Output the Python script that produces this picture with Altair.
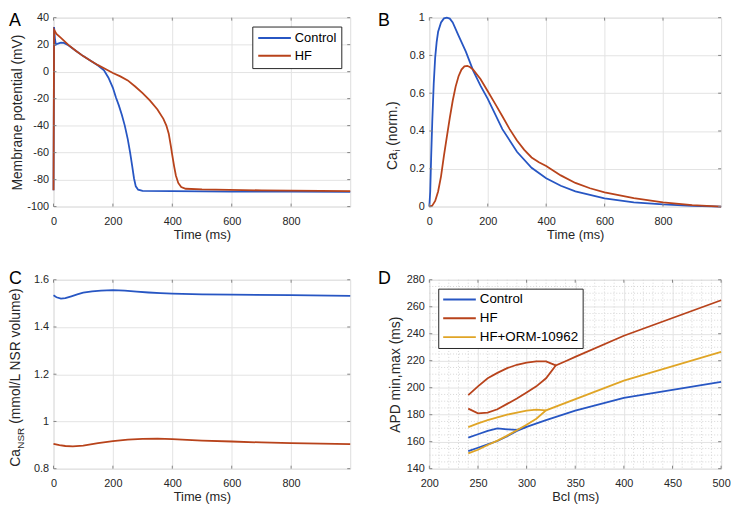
import altair as alt
import pandas as pd

# ---------------- data ----------------
SERIES_AB = ["Control", "HF"]
SERIES_D = ["Control", "HF", "HF+ORM-10962"]

# Panel A: membrane potential (mV) vs time (ms)
a_ctrl_t = [0, 2, 5, 8, 15, 25, 35, 50, 75, 100, 125, 150, 170, 185, 200, 210, 220, 230, 240, 250,
            258, 265, 271, 277, 285, 300, 400, 600, 800, 999]
a_ctrl_v = [-88, 33, 24, 20, 20.8, 21.5, 21.3, 19.5, 15.5, 11.5, 8, 4.5, 1, -4.5, -12, -19, -25, -32, -40, -50,
            -60, -70, -79, -85, -87.5, -88.3, -88.6, -88.9, -89, -89.1]
a_hf_t = [0, 2, 10, 25, 50, 75, 100, 125, 150, 175, 200, 225, 250, 275, 300, 325, 350, 370, 380, 388,
          395, 400, 406, 412, 420, 430, 445, 500, 700, 999]
a_hf_v = [-88, 31, 28, 25, 19.8, 15.5, 11.5, 8, 4.8, 2, -1, -3.5, -6.5, -11, -16, -21.5, -28, -35, -40, -46,
          -55, -62, -70, -77, -82.5, -85.5, -86.8, -87.3, -88, -88.6]

# Panel B: Ca_i normalised
b_ctrl_t = [0, 3, 6, 10, 15, 20, 25, 30, 40, 50, 60, 70, 80, 100, 125, 150, 175, 200, 250, 300, 350, 400,
            450, 500, 600, 700, 800, 900, 999]
b_ctrl_v = [0, 0.08, 0.25, 0.45, 0.65, 0.79, 0.87, 0.925, 0.975, 0.996, 1.0, 0.995, 0.975, 0.905, 0.82, 0.72,
            0.64, 0.57, 0.41, 0.29, 0.205, 0.15, 0.11, 0.08, 0.043, 0.022, 0.011, 0.004, 0]
b_hf_t = [0, 10, 20, 30, 40, 50, 60, 70, 80, 90, 100, 110, 120, 130, 140, 150, 175, 200, 225, 250, 275, 300,
          325, 350, 375, 400, 450, 500, 550, 600, 700, 800, 900, 999]
b_hf_v = [0, 0.005, 0.03, 0.08, 0.16, 0.27, 0.37, 0.47, 0.56, 0.635, 0.69, 0.725, 0.742, 0.745, 0.737, 0.725,
          0.675, 0.61, 0.545, 0.478, 0.41, 0.35, 0.3, 0.26, 0.235, 0.215, 0.165, 0.125, 0.097, 0.075, 0.045,
          0.022, 0.008, 0]

# Panel C: Ca_NSR (mmol/L NSR volume)
c_ctrl_t = [0, 10, 25, 40, 60, 80, 100, 130, 160, 200, 240, 280, 320, 360, 400, 500, 600, 800, 999]
c_ctrl_v = [1.534, 1.526, 1.520, 1.522, 1.530, 1.538, 1.545, 1.551, 1.554, 1.556, 1.554, 1.550, 1.546, 1.543,
            1.541, 1.538, 1.537, 1.535, 1.532]
c_hf_t = [0, 20, 40, 65, 100, 150, 200, 250, 300, 350, 400, 450, 500, 600, 700, 800, 900, 999]
c_hf_v = [0.905, 0.900, 0.896, 0.894, 0.898, 0.908, 0.917, 0.923, 0.926, 0.927, 0.925, 0.922, 0.919, 0.915,
          0.911, 0.908, 0.906, 0.904]

# Panel D: APD min/max (ms) vs Bcl (ms) -- upper (max) branch and lower (min) + merged branch
d_ctrl_up_bcl = [240, 250, 260, 270, 280, 290, 300]
d_ctrl_up_apd = [163, 165.5, 168, 169.8, 169.2, 168.8, 171]
d_ctrl_lo_bcl = [240, 250, 260, 270, 280, 290, 300, 320, 350, 400, 500]
d_ctrl_lo_apd = [153, 155.5, 158, 160.5, 164, 168, 171, 176, 183, 192.5, 204.3]
d_hf_up_bcl = [240, 250, 260, 270, 280, 290, 300, 310, 320, 330]
d_hf_up_apd = [194.5, 201, 207, 211, 214.5, 217, 218.5, 219.5, 219.5, 216.5]
d_hf_lo_bcl = [240, 250, 260, 270, 280, 290, 300, 310, 320, 330, 340, 350, 400, 500]
d_hf_lo_apd = [184.5, 181, 181.5, 184, 188, 192, 196.5, 201, 207, 216.5, 219.6, 222.8, 238.5, 264.8]
d_orm_up_bcl = [240, 250, 260, 270, 280, 290, 300, 310, 320]
d_orm_up_apd = [170.8, 173.5, 176, 178, 180, 181.5, 183, 183.8, 183.2]
d_orm_lo_bcl = [240, 250, 260, 270, 280, 290, 300, 310, 320, 400, 500]
d_orm_lo_apd = [151.3, 154, 157.5, 160.8, 164.5, 168.5, 172.5, 177, 183.2, 205.2, 226.6]

# ---------------- styling ----------------
FONT = "Liberation Sans"
WL, WR, H = 300, 295, 191
BLUE, RED, YEL = "#2756C3", "#B8431B", "#E0A526"
GRID = "#E3E3E3"
MINOR = "#D6D6D6"
TXT = "#262626"
BOX = "#858585"

one = pd.DataFrame({"k": [0]})


def build_df(parts):
    rows = []
    for s, g, xs, ys in parts:
        for i, (x, y) in enumerate(zip(xs, ys)):
            rows.append({"s": s, "g": g, "i": i, "x": x, "y": y})
    return pd.DataFrame(rows)


def x_axis(values, title):
    return alt.Axis(values=values, title=title, grid=True, gridColor=GRID, domain=False, ticks=False,
                    tickSize=0, labelPadding=9, labelFontSize=11, labelFont=FONT, labelColor=TXT,
                    labelExpr="toString(datum.value)", labelFlush=False, labelOverlap=False,
                    titleFont=FONT, titleFontSize=13, titleFontWeight="normal", titleColor=TXT,
                    titlePadding=2)


def y_axis(values, h, title=None, title_x=None):
    kw = dict(values=values, grid=True, gridColor=GRID, domain=False, ticks=False, tickSize=0,
              labelPadding=5, labelFontSize=11, labelFont=FONT, labelColor=TXT,
              labelExpr="toString(datum.value)", labelFlush=False, labelOverlap=False)
    if title:
        kw.update(title=title, titleX=title_x, titleY=h / 2, titleAngle=270, titleAlign="center",
                  titleBaseline="middle", titleFont=FONT, titleFontSize=14, titleFontWeight="normal",
                  titleColor=TXT)
    else:
        kw.update(title=None)
    return alt.Axis(**kw)


def frame(w, h, L, R, T, B):
    return alt.Chart(one).mark_rule(strokeOpacity=0, opacity=0).encode(
        x=alt.value(-L), x2=alt.value(w + R), y=alt.value(-T), y2=alt.value(h + B))


def letter(s, x, y):
    return alt.Chart(one).mark_text(text=s, align="left", baseline="top", fontSize=18, font=FONT,
                                    color="black").encode(x=alt.value(x), y=alt.value(y))


def rot_text(s, x, y, size):
    return alt.Chart(one).mark_text(text=s, angle=270, align="left", baseline="middle", fontSize=size,
                                    font=FONT, color=TXT).encode(x=alt.value(x), y=alt.value(y))


def legend(orient, size, clip, rowpad, pad):
    return alt.Legend(title=None, orient=orient, offset=9, strokeColor=TXT, fillColor="white",
                      padding=pad, labelFontSize=size, labelFont=FONT, labelColor="black",
                      symbolType="stroke", symbolSize=33 * 33, symbolStrokeWidth=2, clipHeight=clip,
                      rowPadding=rowpad, labelOffset=3, cornerRadius=0)


def panel(df, w, h, domain, colors, xdom, ydom, xticks, yticks, xtitle, ytitle, ytitle_x, leg,
          minor=None, after=(), L=45, R=0, T=7, B=35):
    xs = alt.Scale(domain=xdom, nice=False, zero=False)
    ys = alt.Scale(domain=ydom, nice=False, zero=False)
    X = alt.X("x:Q", scale=xs, axis=x_axis(xticks, xtitle))
    Y = alt.Y("y:Q", scale=ys, axis=y_axis(yticks, h, ytitle, ytitle_x))
    layers = []
    if minor is not None:
        mx, my = minor
        layers.append(alt.Chart(pd.DataFrame({"x": mx})).mark_rule(
            color=MINOR, strokeDash=[1, 2], strokeWidth=1).encode(x=X))
        layers.append(alt.Chart(pd.DataFrame({"y": my})).mark_rule(
            color=MINOR, strokeDash=[1, 2], strokeWidth=1).encode(y=Y))
    layers.append(alt.Chart(df).mark_line(strokeWidth=1.8).encode(
        x=X, y=Y,
        color=alt.Color("s:N", scale=alt.Scale(domain=domain, range=colors), legend=leg),
        detail="g:N",
        order="i:Q",
    ))
    # MATLAB-style inward ticks on all four sides
    n = 3
    st = dict(color=BOX, strokeWidth=1)
    dx = pd.DataFrame({"x": xticks})
    dy = pd.DataFrame({"y": yticks})
    layers += [
        alt.Chart(dx).mark_rule(**st).encode(x=X, y=alt.value(h), y2=alt.value(h - n)),
        alt.Chart(dx).mark_rule(**st).encode(x=X, y=alt.value(0), y2=alt.value(n)),
        alt.Chart(dy).mark_rule(**st).encode(y=Y, x=alt.value(0), x2=alt.value(n)),
        alt.Chart(dy).mark_rule(**st).encode(y=Y, x=alt.value(w), x2=alt.value(w - n)),
    ]
    layers += list(after)
    layers.append(frame(w, h, L, R, T, B))
    return alt.layer(*layers).properties(width=w, height=h)


TT = [0, 200, 400, 600, 800]

dfA = build_df([("Control", "c", a_ctrl_t, a_ctrl_v), ("HF", "h", a_hf_t, a_hf_v)])
pA = panel(dfA, WL, H, SERIES_AB, [BLUE, RED], [0, 999], [-100, 40], TT, [-100, -80, -60, -40, -20, 0, 20, 40],
           "Time (ms)", "Membrane potential (mV)", -36.5, legend("top-right", 13, 13, 4, 5),
           after=[letter("A", -45, -6)], L=45, R=0, T=6)

dfB = build_df([("Control", "c", b_ctrl_t, b_ctrl_v), ("HF", "h", b_hf_t, b_hf_v)])
pB = panel(dfB, WR, H, SERIES_AB, [BLUE, RED], [0, 999], [0, 1], TT, [0, 0.2, 0.4, 0.6, 0.8, 1],
           "Time (ms)", None, None, None,
           after=[letter("B", -52, -6),
                  rot_text("Ca", -36.6, 154, 14),
                  rot_text("i", -32.3, 135.7, 10),
                  rot_text("(norm.)", -36.6, 129.6, 14)],
           L=52, R=10, T=6)

dfC = build_df([("Control", "c", c_ctrl_t, c_ctrl_v), ("HF", "h", c_hf_t, c_hf_v)])
pC = panel(dfC, WL, H, SERIES_AB, [BLUE, RED], [0, 999], [0.8, 1.6], TT, [0.8, 1.0, 1.2, 1.4, 1.6],
           "Time (ms)", None, None, None,
           after=[letter("C", -45, -10),
                  rot_text("Ca", -37.5, 189, 14),
                  rot_text("NSR", -33, 170.8, 10),
                  rot_text("(mmol/L NSR volume)", -37.5, 145.6, 14)],
           L=45, R=0, T=10)

dfD = build_df([("Control", "cu", d_ctrl_up_bcl, d_ctrl_up_apd), ("Control", "cl", d_ctrl_lo_bcl, d_ctrl_lo_apd),
                ("HF", "hu", d_hf_up_bcl, d_hf_up_apd), ("HF", "hl", d_hf_lo_bcl, d_hf_lo_apd),
                ("HF+ORM-10962", "ou", d_orm_up_bcl, d_orm_up_apd),
                ("HF+ORM-10962", "ol", d_orm_lo_bcl, d_orm_lo_apd)])
D_XT = [200, 250, 300, 350, 400, 450, 500]
D_YT = [140, 160, 180, 200, 220, 240, 260, 280]
minor_x = [v for v in range(210, 500, 10) if v % 50]
minor_y = [v for v in range(145, 280, 5) if v % 20]

pD = panel(dfD, WR, H, SERIES_D, [BLUE, RED, YEL], [200, 500], [140, 280], D_XT, D_YT,
           "Bcl (ms)", "APD min,max (ms)", -33.7, legend("top-left", 13.5, 14, 5, 4),
           minor=(minor_x, minor_y),
           after=[letter("D", -52, -10)], L=52, R=10, T=10)

row1 = alt.hconcat(pA, pB, spacing=22).resolve_scale(color="independent", x="independent", y="independent")
row2 = alt.hconcat(pC, pD, spacing=22).resolve_scale(color="independent", x="independent", y="independent")
chart = alt.vconcat(row1, row2, spacing=27).resolve_scale(
    color="independent", x="independent", y="independent"
).properties(padding=0).configure_view(stroke=BOX, strokeWidth=1).configure(font=FONT)

chart.save("out.html", embed_options={"renderer": "svg", "actions": False})
